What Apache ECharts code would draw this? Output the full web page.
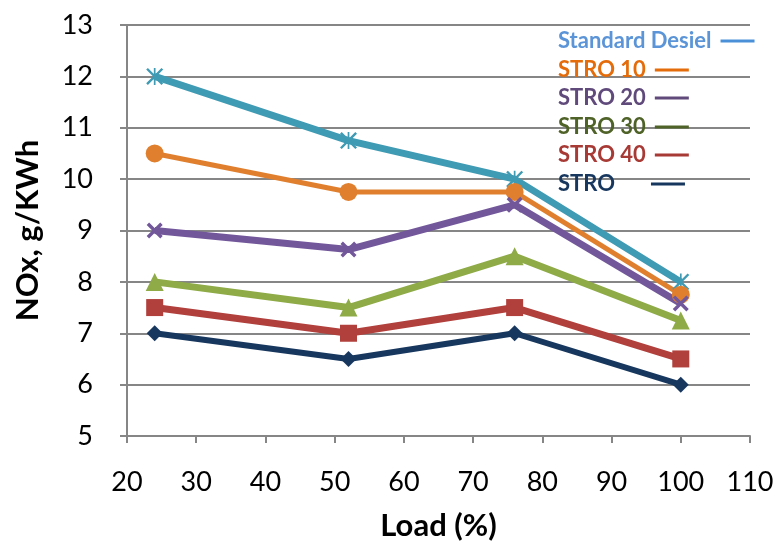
<!DOCTYPE html>
<html>
<head>
<meta charset="utf-8">
<script src="https://cdn.jsdelivr.net/npm/echarts@6/dist/echarts.min.js"></script>
<style>
  html, body { margin: 0; padding: 0; background: #fff; }
  #chart { width: 778px; height: 543px; }
</style>
</head>
<body>
<div id="chart"></div>
<script>
// Engine load (%) at which NOx was measured
const loads = [24, 52, 76, 100];

// NOx emissions, g/KWh
const standardDesiel = [12, 10.75, 10, 8];
const stro10 = [10.5, 9.75, 9.75, 7.75];
const stro20 = [9, 8.63, 9.5, 7.58];
const stro30 = [8, 7.5, 8.5, 7.25];
const stro40 = [7.5, 7, 7.5, 6.5];
const stro = [7, 6.5, 7, 6];

const seriesNames = ['Standard Desiel', 'STRO 10', 'STRO 20', 'STRO 30', 'STRO 40', 'STRO'];

// Six-armed asterisk and a thick X cross as filled paths
const asterisk = 'path://M0,2 L2,0 L20,18 L18,20 Z M18,0 L20,2 L2,20 L0,18 Z M9,0 L11,0 L11,20 L9,20 Z';
const cross = 'path://M0,3 L3,0 L20,17 L17,20 Z M17,0 L20,3 L3,20 L0,17 Z';

const FONT = 'Lato';

function pairs(values) {
  return values.map((v, i) => [loads[i], v]);
}

function lineSeries(name, values, color, width, symbol, size) {
  return {
    name: name,
    type: 'line',
    data: pairs(values),
    symbol: symbol,
    symbolSize: size,
    showAllSymbol: true,
    lineStyle: { color: color, width: width },
    itemStyle: { color: color, borderWidth: 0 },
    emphasis: { disabled: true },
    z: 3
  };
}

// Key entries: coloured name followed by a short line sample
const keyText = ['#5b95d8', '#e46c0a', '#604a7b', '#4f6228', '#a83a36', '#17375e'];
const keyLine = ['#4a90d9', '#e46c0a', '#604a7b', '#4f6228', '#a83a36', '#17375e'];
const keyRowMid = [42, 71, 99, 128, 156, 185];
const keyGapAfter = [4, 4, 4, 4, 4, 31];

const legends = seriesNames.map((name, i) => ({
  orient: 'horizontal',
  left: 558,
  top: keyRowMid[i] - 12,
  padding: 0,
  align: 'right',
  itemWidth: 34,
  itemHeight: 3,
  icon: 'rect',
  selectedMode: false,
  textStyle: {
    fontFamily: FONT, fontSize: 22, fontWeight: 'bold', color: keyText[i],
    padding: [0, keyGapAfter[i], 0, 0]
  },
  data: [{ name: name, itemStyle: { color: keyLine[i] } }]
}));

const chart = echarts.init(document.getElementById('chart'), null, { renderer: 'canvas' });

chart.setOption({
  animation: false,
  backgroundColor: '#ffffff',
  grid: { left: 127, right: 28, top: 25, bottom: 107, outerBoundsMode: 'none' },
  legend: legends,
  xAxis: {
    type: 'value',
    min: 20,
    max: 110,
    interval: 10,
    name: 'Load (%)',
    nameLocation: 'middle',
    nameGap: 74,
    nameTextStyle: { fontFamily: FONT, fontSize: 31, fontWeight: 'bold', color: '#000' },
    axisLine: { show: true, onZero: false, lineStyle: { color: '#868686', width: 2 } },
    axisTick: { show: true, length: 7, lineStyle: { color: '#868686', width: 2 } },
    axisLabel: { margin: 33, fontFamily: FONT, fontSize: 27, color: '#000' },
    splitLine: { show: false }
  },
  yAxis: {
    type: 'value',
    min: 5,
    max: 13,
    interval: 1,
    name: 'NOx, g/KWh',
    nameLocation: 'middle',
    nameGap: 84,
    nameTextStyle: { fontFamily: FONT, fontSize: 31, fontWeight: 'bold', color: '#000' },
    axisLine: { show: true, lineStyle: { color: '#868686', width: 2 } },
    axisTick: { show: true, length: 7, lineStyle: { color: '#868686', width: 2 } },
    axisLabel: { margin: 34, fontFamily: FONT, fontSize: 27, color: '#000' },
    splitLine: { show: true, lineStyle: { color: '#868686', width: 2 } }
  },
  series: [
    lineSeries(seriesNames[0], standardDesiel, '#3f9ab3', 7, asterisk, 17),
    lineSeries(seriesNames[1], stro10, '#e0802f', 5, 'circle', 18),
    lineSeries(seriesNames[2], stro20, '#72579a', 7, cross, 16),
    lineSeries(seriesNames[3], stro30, '#8eab47', 7, 'triangle', 18),
    lineSeries(seriesNames[4], stro40, '#b13f3b', 7, 'rect', 17),
    lineSeries(seriesNames[5], stro, '#17375e', 6, 'diamond', 16)
  ]
});
</script>
</body>
</html>
